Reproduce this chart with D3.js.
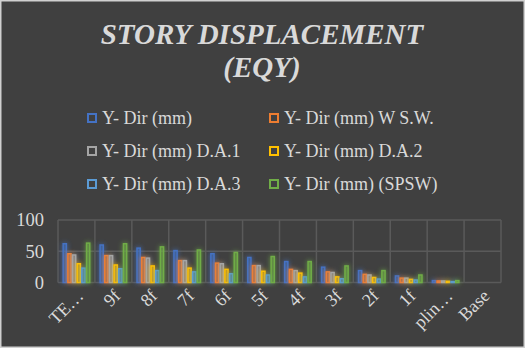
<!DOCTYPE html>
<html>
<head>
<meta charset="utf-8">
<script src="https://cdn.jsdelivr.net/npm/d3@7/dist/d3.min.js"></script>
<style>
  html, body { margin: 0; padding: 0; background: #404040; }
  svg { display: block; }
  text { font-family: "Liberation Serif", "Times New Roman", serif; fill: #d9d9d9; }
</style>
</head>
<body>
<svg id="chart" width="525" height="348"></svg>
<script>
// Story displacement in Y direction (mm) per floor, six structural variants
const categories = ["TERRACE", "9f", "8f", "7f", "6f", "5f", "4f", "3f", "2f", "1f", "plinth", "Base"];
const seriesNames = [
  "Y- Dir (mm)",
  "Y- Dir (mm) W S.W.",
  "Y- Dir (mm) D.A.1",
  "Y- Dir (mm) D.A.2",
  "Y- Dir (mm) D.A.3",
  "Y- Dir (mm) (SPSW)"
];
const seriesColors = ["#4472C4", "#ED7D31", "#A5A5A5", "#FFC000", "#5B9BD5", "#70AD47"];
const yDir     = [62, 60, 55, 51, 46, 40, 33.5, 24.5, 19, 10.5, 3, 0];
const yDirWSW  = [46, 43, 40, 35, 31, 27, 21, 17, 13, 7, 2.5, 0];
const yDirDA1  = [44, 43, 39, 35, 30, 27, 19, 16, 12, 7, 2.5, 0];
const yDirDA2  = [30, 28, 26.5, 23, 21, 18, 15, 9, 8, 5, 2, 0];
const yDirDA3  = [23, 22, 19, 17, 14, 12, 9, 6, 5.5, 4, 1.5, 0];
const yDirSPSW = [63, 62, 57, 52, 48, 41.5, 33.5, 26.5, 19, 12, 3, 0];
const seriesValues = [yDir, yDirWSW, yDirDA1, yDirDA2, yDirDA3, yDirSPSW];
const yTicks = [0, 50, 100];

const svg = d3.select("#chart");
const W = 525, H = 348;

// background and outer frame
svg.append("rect").attr("x", 0.75).attr("y", 0.75).attr("width", W - 1.5).attr("height", H - 1.5)
  .attr("fill", "#404040").attr("stroke", "#d0d0d0").attr("stroke-width", 1.5);

// glow filters, one per series colour
const defs = svg.append("defs");
seriesColors.forEach((c, i) => {
  const f = defs.append("filter").attr("id", "glow" + i)
    .attr("x", "-150%").attr("y", "-30%").attr("width", "400%").attr("height", "160%");
  f.append("feGaussianBlur").attr("in", "SourceGraphic").attr("stdDeviation", 2.6).attr("result", "b");
  const m = f.append("feMerge");
  m.append("feMergeNode").attr("in", "b");
  m.append("feMergeNode").attr("in", "SourceGraphic");
});

// title
const title = svg.append("text").attr("x", 262).attr("text-anchor", "middle")
  .style("font-size", "29px").style("font-weight", "bold").style("font-style", "italic");
title.append("tspan").attr("x", 262).attr("y", 44).text("STORY DISPLACEMENT");
title.append("tspan").attr("x", 262).attr("y", 77).text("(EQY)");

// legend
const legendPos = [[92, 118], [274, 118], [92, 151], [274, 151], [92, 184], [274, 184]];
seriesNames.forEach((name, i) => {
  const [lx, ly] = legendPos[i];
  svg.append("rect").attr("x", lx - 4).attr("y", ly - 4).attr("width", 8).attr("height", 8)
    .attr("fill", "#404040").attr("stroke", seriesColors[i]).attr("stroke-width", 2);
  svg.append("text").attr("x", lx + 10).attr("y", ly + 6).style("font-size", "18px").text(name);
});

// scales
const x0 = d3.scaleBand().domain(categories).range([58, 501]).paddingInner(0.24).paddingOuter(0.12);
const x1 = d3.scaleBand().domain(d3.range(seriesNames.length)).range([0, x0.bandwidth()]);
const y = d3.scaleLinear().domain([0, 100]).range([282.5, 220]);

// gridlines
const grid = svg.append("g").attr("stroke", "#5a5a5a").attr("stroke-width", 1.5);
yTicks.forEach(t => {
  grid.append("line").attr("x1", 58).attr("x2", 501).attr("y1", y(t)).attr("y2", y(t));
});
const step = x0.step();
d3.range(categories.length + 1).forEach(k => {
  const gx = 58 + k * step;
  grid.append("line").attr("x1", gx).attr("x2", gx).attr("y1", y(100)).attr("y2", y(0));
});

// y axis labels
const yAxis = d3.axisLeft(y).tickValues(yTicks).tickSize(0).tickPadding(14);
const gy = svg.append("g").attr("transform", "translate(58,0)").call(yAxis);
gy.select(".domain").remove();
gy.selectAll("text").style("font-size", "18.5px").attr("fill", "#d9d9d9")
  .attr("dy", "0.32em").style("font-family", '"Liberation Serif", serif');

// bars
seriesValues.forEach((vals, si) => {
  const g = svg.append("g").attr("filter", `url(#glow${si})`);
  g.selectAll("rect").data(vals).join("rect")
    .attr("x", (d, i) => x0(categories[i]) + x1(si) + 0.75)
    .attr("y", d => y(d))
    .attr("width", x1.bandwidth() - 1.5)
    .attr("height", d => Math.max(0, y(0) - y(d)))
    .attr("fill", seriesColors[si]).attr("fill-opacity", 0.4)
    .attr("stroke", seriesColors[si]).attr("stroke-width", 1.5);
});

// category labels, rotated, long names truncated with an ellipsis
const catLabel = c => c.length > 4 ? c.slice(0, c === "TERRACE" ? 2 : 4) + "…" : c;
svg.append("g").selectAll("text").data(categories).join("text")
  .attr("text-anchor", "end").style("font-size", "18px")
  .attr("transform", c => `translate(${x0(c) + x0.bandwidth() / 2 + 8},${297}) rotate(-45)`)
  .text(catLabel);
</script>
</body>
</html>
